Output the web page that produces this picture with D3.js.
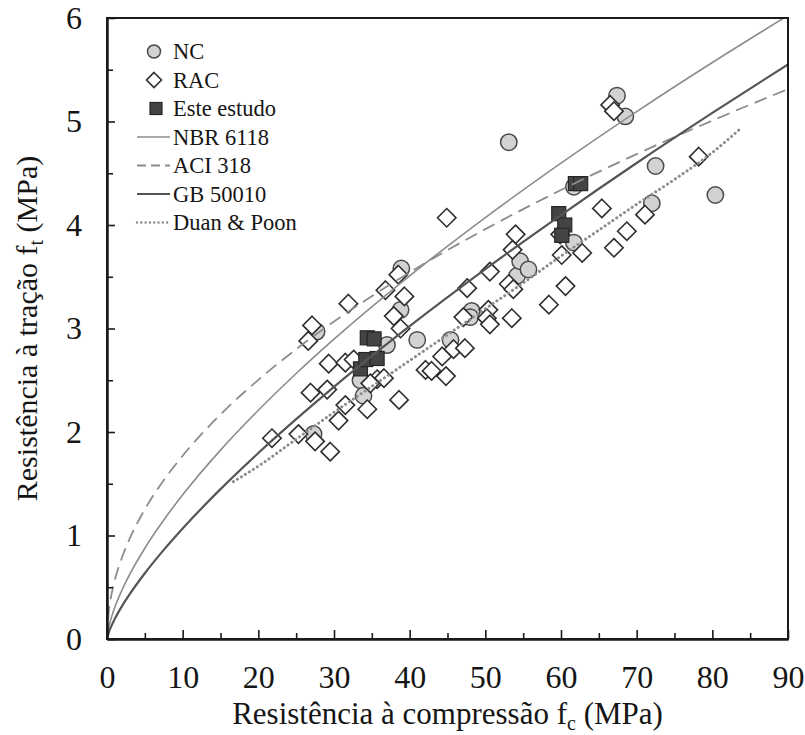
<!DOCTYPE html>
<html><head><meta charset="utf-8">
<script src="https://cdn.jsdelivr.net/npm/d3@7"></script>
<style>
body{margin:0;background:#fff}
svg{display:block}
svg text{font-family:'Liberation Serif','Tinos','Times New Roman',Times,'DejaVu Serif',serif !important;fill:#151515}
</style>
</head><body>
<svg id="chart" width="805" height="735"></svg>
<script>
// ---------- data ----------
const ncData = [[27.7,2.97],[33.5,2.50],[33.9,2.35],[27.3,1.98],[37.0,2.84],[38.9,3.58],[38.8,3.18],[41.0,2.89],[45.4,2.89],[48.2,3.17],[48.0,3.11],[53.1,4.80],[54.2,3.51],[54.6,3.65],[55.7,3.57],[61.7,4.37],[61.7,3.83],[67.4,5.25],[68.5,5.05],[72.5,4.57],[72.0,4.21],[80.4,4.29]];
const racData = [[21.8,1.94],[25.3,1.98],[27.5,1.91],[29.5,1.81],[26.9,2.38],[29.1,2.41],[31.5,2.26],[30.6,2.11],[34.4,2.22],[38.6,2.31],
 [27.1,3.03],[26.6,2.88],[31.9,3.24],[36.8,3.37],[29.3,2.66],[31.5,2.67],[32.6,2.70],[35.7,2.51],[36.6,2.52],[34.8,2.47],
 [37.9,3.12],[38.5,3.52],[39.3,3.31],[38.8,3.00],
 [42.1,2.60],[42.9,2.59],[44.8,2.54],[44.3,2.73],[45.8,2.80],[47.3,2.81],
 [47.1,3.11],[47.6,3.39],[50.4,3.18],[50.2,3.10],[50.6,3.04],[53.5,3.10],[50.6,3.55],[53.1,3.43],[53.7,3.38],[58.4,3.23],[60.6,3.41],
 [44.9,4.07],[54.0,3.91],[53.6,3.76],[60.1,3.71],[62.8,3.73],[59.9,3.91],[65.4,4.16],[67.0,3.78],[68.7,3.94],[71.1,4.10],[78.2,4.66],[66.5,5.16],[67.0,5.10]];
const esteData = [[33.5,2.61],[34.2,2.70],[35.7,2.71],[34.4,2.91],[35.3,2.90],[59.7,4.11],[60.5,4.00],[60.1,3.90],[61.9,4.40],[62.6,4.40]];

// model curves, values
const curveFc   = [0,0.25,0.5,1,2,3,5,7.5,10,15,20,25,30,40,50,60,70,80,90];
const nbrValues = [0,0.119,0.189,0.30,0.476,0.624,0.877,1.149,1.393,1.825,2.21,2.565,2.897,3.509,4.072,4.598,5.096,5.57,6.025];
const aciValues = [0,0.28,0.396,0.56,0.792,0.97,1.252,1.534,1.771,2.169,2.504,2.8,3.067,3.542,3.96,4.338,4.685,5.009,5.313];
const gbValues  = [0,0.067,0.113,0.19,0.32,0.433,0.635,0.861,1.068,1.448,1.797,2.124,2.436,3.022,3.573,4.096,4.599,5.083,5.552];
const duanFc     = [16.7,20,25,30,35,40,45,50,55,60,65,70,75,80,83.7];
const duanValues = [1.52,1.67,1.93,2.19,2.44,2.69,2.94,3.19,3.44,3.70,3.95,4.20,4.44,4.70,4.93];

const xMajorTicks = [0,10,20,30,40,50,60,70,80,90];
const xMinorTicks = [5,15,25,35,45,55,65,75,85];
const yMajorTicks = [0,1,2,3,4,5,6];
const yMinorTicks = [0.5,1.5,2.5,3.5,4.5,5.5];

const legendLabels = ["NC","RAC","Este estudo","NBR 6118","ACI 318","GB 50010","Duan & Poon"];
const legendKinds  = ["circle","diamond","square","nbr","aci","gb","duan"];

// ---------- drawing ----------
const FONT = "'Liberation Serif','Tinos','Times New Roman',Times,'DejaVu Serif',serif";
const svg = d3.select("#chart");
const X0=107, X1=788, Y0=639, Y1=18;
const x = d3.scaleLinear().domain([0,90]).range([X0,X1]);
const y = d3.scaleLinear().domain([0,6]).range([Y0,Y1]);

svg.append("defs").append("clipPath").attr("id","plotclip")
  .append("rect").attr("x",X0).attr("y",Y1).attr("width",X1-X0).attr("height",Y0-Y1);

const styles = {
  nbr:{stroke:"#8c8c8c",width:1.6,dash:null,cap:"butt"},
  aci:{stroke:"#8c8c8c",width:1.8,dash:"13,7",cap:"butt"},
  gb:{stroke:"#555",width:2.2,dash:null,cap:"butt"},
  duan:{stroke:"#8c8c8c",width:3,dash:"0.1,4.6",cap:"round"}
};

function drawCircle(g,cx,cy,r){
  g.append("circle").attr("cx",cx).attr("cy",cy).attr("r",r)
    .attr("fill","#d2d2d2").attr("stroke","#4a4a4a").attr("stroke-width",1.5);
}
function drawDiamond(g,cx,cy,h){
  g.append("path").attr("d",`M${cx},${cy-h}L${cx+h},${cy}L${cx},${cy+h}L${cx-h},${cy}Z`)
    .attr("fill","#fff").attr("stroke","#2e2e2e").attr("stroke-width",1.6);
}
function drawSquare(g,cx,cy,s){
  g.append("rect").attr("x",cx-s/2).attr("y",cy-s/2).attr("width",s).attr("height",s)
    .attr("fill","#444").attr("stroke","#262626").attr("stroke-width",1.2);
}

const marks = svg.append("g");
ncData.forEach(d=>drawCircle(marks,x(d[0]),y(d[1]),8.2));
racData.forEach(d=>drawDiamond(marks,x(d[0]),y(d[1]),9.2));
esteData.forEach(d=>drawSquare(marks,x(d[0]),y(d[1]),14));

// curves on top
const lines = svg.append("g").attr("clip-path","url(#plotclip)");
const lineGen = d3.line().x(d=>x(d[0])).y(d=>y(d[1])).curve(d3.curveMonotoneX);
function drawCurve(fc,vals,st){
  const p = lines.append("path").datum(fc.map((f,i)=>[f,vals[i]]))
    .attr("d",lineGen).attr("fill","none")
    .attr("stroke",st.stroke).attr("stroke-width",st.width).attr("stroke-linecap",st.cap);
  if(st.dash) p.attr("stroke-dasharray",st.dash);
}
drawCurve(curveFc,nbrValues,styles.nbr);
drawCurve(curveFc,aciValues,styles.aci);
drawCurve(curveFc,gbValues,styles.gb);
drawCurve(duanFc,duanValues,styles.duan);

// frame
svg.append("rect").attr("x",X0).attr("y",Y1).attr("width",X1-X0).attr("height",Y0-Y1)
  .attr("fill","none").attr("stroke","#1a1a1a").attr("stroke-width",2);

// axes
const tickFont = 32;
svg.append("g").attr("transform",`translate(0,${Y0})`)
  .call(d3.axisBottom(x).tickValues(xMajorTicks).tickSize(-9).tickSizeOuter(0).tickPadding(26).tickFormat(d3.format("d")));
svg.append("g").attr("transform",`translate(0,${Y0})`)
  .call(d3.axisBottom(x).tickValues(xMinorTicks).tickSize(-6).tickSizeOuter(0).tickFormat(""));
svg.append("g").attr("transform",`translate(${X0},0)`)
  .call(d3.axisLeft(y).tickValues(yMajorTicks).tickSize(-8).tickSizeOuter(0).tickPadding(25).tickFormat(d3.format("d")));
svg.append("g").attr("transform",`translate(${X0},0)`)
  .call(d3.axisLeft(y).tickValues(yMinorTicks).tickSize(-6).tickSizeOuter(0).tickFormat(""));
svg.selectAll("g").attr("font-family",FONT);
svg.selectAll(".domain").attr("stroke","#1a1a1a").attr("stroke-width",2);
svg.selectAll(".tick line").attr("stroke","#1a1a1a").attr("stroke-width",1.6);
svg.selectAll(".tick text").attr("font-family",FONT).attr("font-size",tickFont).attr("fill","#151515");

// axis titles
const xt = svg.append("text").attr("x",(X0+X1)/2).attr("y",724).attr("text-anchor","middle")
  .attr("font-family",FONT).attr("font-size",31);
xt.append("tspan").text("Resistência à compressão f");
xt.append("tspan").text("c").attr("font-size",20).attr("dy",6);
xt.append("tspan").text(" (MPa)").attr("dy",-6);

const yt = svg.append("text").attr("transform",`translate(37,${(Y0+Y1)/2}) rotate(-90)`).attr("text-anchor","middle")
  .attr("font-family",FONT).attr("font-size",30);
yt.append("tspan").text("Resistência à tração f");
yt.append("tspan").text("t").attr("font-size",20).attr("dy",6);
yt.append("tspan").text(" (MPa)").attr("dy",-6);

// legend
const lg = svg.append("g");
legendLabels.forEach((lab,i)=>{
  const cy = 51.5 + i*28.5;
  const k = legendKinds[i];
  if(k==="circle") drawCircle(lg,154,cy,6.5);
  else if(k==="diamond") drawDiamond(lg,154,cy,7.5);
  else if(k==="square") drawSquare(lg,156,cy,12);
  else {
    const st = styles[k];
    const l = lg.append("line").attr("x1",137).attr("x2",170).attr("y1",cy).attr("y2",cy)
      .attr("stroke",st.stroke).attr("stroke-width",st.width).attr("stroke-linecap",st.cap);
    if(k==="aci") l.attr("stroke-dasharray","9,5");
    else if(k==="duan") l.attr("stroke-dasharray","0.1,4.2").attr("stroke-width",2.4);
  }
  lg.append("text").attr("x",173).attr("y",cy+7.5).attr("font-family",FONT).attr("font-size",22.5).text(lab);
});
</script>
</body></html>
